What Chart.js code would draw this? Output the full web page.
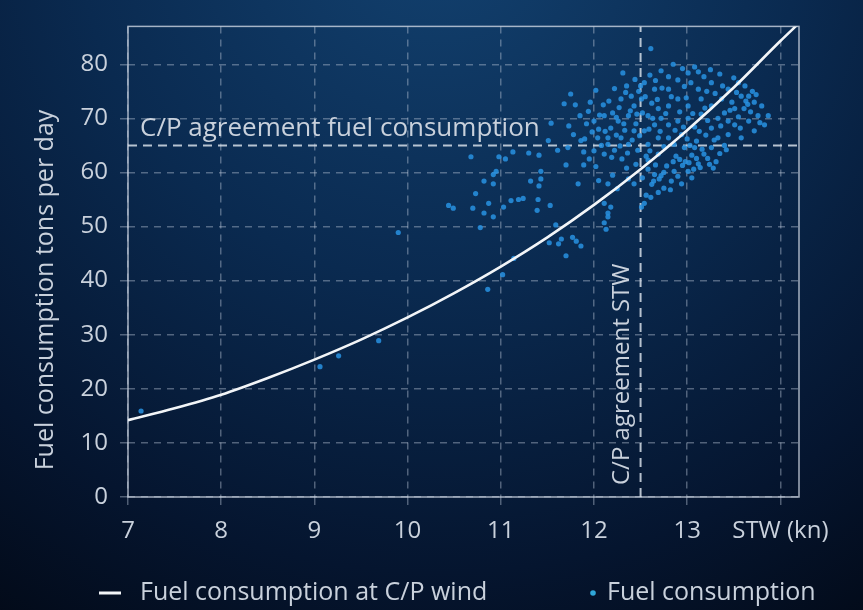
<!DOCTYPE html>
<html>
<head>
<meta charset="utf-8">
<script src="https://cdn.jsdelivr.net/npm/chart.js@4.4.1/dist/chart.umd.min.js"></script>
<style>
  html, body { margin: 0; padding: 0; background: #061a33; }
  canvas { display: block; }
</style>
</head>
<body>
<canvas id="fuelChart" width="863" height="610"></canvas>
<script>
// speed through water (kn) and the C/P wind curve
const curveStw  = [7, 7.5, 8, 8.5, 9, 9.5, 10, 10.5, 11, 11.5, 12, 12.5, 13, 13.5, 14, 14.2];
const curveFuel = [14.2, 16.4, 18.9, 22.0, 25.4, 29.1, 33.2, 37.7, 42.6, 48.0, 54.0, 60.6, 67.8, 75.7, 84.3, 87.6];

// measured noon reports [STW, fuel t/day]
const measured = [
  [7.14,15.9],[9.06,24.1],[9.26,26.1],[9.69,28.9],[9.90,48.9],
  [10.44,53.9],[10.49,53.4],[10.68,62.9],[10.70,53.4],[10.73,56.1],[10.78,49.8],[10.82,58.4],[10.82,52.5],
  [10.86,38.4],[10.87,54.3],[10.92,59.6],[10.92,57.9],[10.92,51.8],[10.95,60.2],[10.98,62.9],[11.02,41.1],
  [11.03,53.6],[11.05,62.5],[11.11,54.8],[11.13,63.8],[11.14,44.1],[11.19,55.0],[11.24,55.2],[11.30,63.6],
  [11.32,58.4],[11.39,53.0],[11.40,55.0],[11.41,57.5],[11.41,63.2],[11.43,58.8],[11.43,60.2],[11.51,65.9],
  [11.52,47.0],[11.53,53.9],[11.54,69.1],[11.59,50.3],[11.61,64.1],[11.62,46.8],[11.65,47.7],[11.68,72.7],
  [11.70,61.4],[11.70,44.6],[11.72,64.6],[11.73,68.6],[11.75,74.5],[11.77,48.0],[11.78,67.0],[11.80,72.5],
  [11.81,47.3],[11.83,57.9],[11.85,70.5],[11.86,65.9],[11.86,46.4],[11.89,61.4],[11.89,63.8],[11.92,69.0],
  [11.94,71.3],[11.95,62.5],[11.98,67.5],
  [12.00,69.5],[12.00,64.0],[12.02,61.1],[12.04,66.4],[12.05,68.0],[12.05,58.5],[12.10,72.5],[12.11,70.5],
  [12.11,63.4],[12.11,54.3],[12.11,50.7],[12.13,49.5],[12.15,65.2],[12.15,57.9],[12.15,51.8],[12.15,66.4],
  [12.15,52.5],[12.18,68.2],[12.18,53.6],[12.20,71.0],[12.20,59.5],[12.22,64.1],[12.22,75.5],[12.25,57.0],
  [12.26,69.5],[12.29,66.4],[12.29,73.6],[12.30,62.5],[12.31,78.4],[12.33,67.8],[12.35,60.8],[12.35,76.0],
  [12.37,70.5],[12.37,65.2],[12.37,58.8],[12.40,74.1],[12.43,72.3],[12.43,67.7],[12.43,57.9],[12.45,69.0],
  [12.45,61.5],[12.47,64.1],[12.48,75.0],[12.50,76.0],[12.51,73.6],[12.51,53.6],[12.52,59.0],[12.54,76.6],
  [12.54,67.7],[12.54,54.3],[12.58,70.5],[12.58,65.2],[12.58,62.3],[12.60,78.0],[12.60,64.0],[12.61,82.9],
  [12.61,55.4],[12.62,72.8],[12.62,57.8],[12.65,75.4],[12.65,68.8],[12.65,59.6],[12.69,71.8],[12.69,66.4],
  [12.69,63.4],[12.69,56.3],[12.70,58.8],[12.72,78.8],[12.72,70.0],[12.75,64.8],[12.75,60.0],[12.75,57.1],
  [11.90,66.2],[11.96,73.0],[12.02,75.2],[12.06,70.6],[12.08,65.0],[12.12,67.6],[12.16,73.2],[12.19,62.8],
  [12.24,66.9],[12.24,70.2],[12.27,72.0],[12.28,64.9],[12.32,69.0],[12.34,74.8],[12.36,63.6],[12.39,71.4],
  [12.41,66.0],[12.44,77.2],[12.46,70.8],[12.49,66.8],[12.52,71.0],[12.55,74.0],[12.56,63.0],[12.59,68.0],
  [12.63,70.0],[12.66,77.0],[12.68,73.5],[12.71,67.6],[12.73,75.6],[12.77,70.9],
  [12.56,55.8],[12.64,58.4],[12.72,59.4],[12.78,61.2],[12.82,56.8],[12.92,62.4],[13.02,61.8],[13.07,60.6],
  [12.66,61.4],[12.58,60.6],
  [12.80,77.7],[12.80,75.4],[12.80,72.3],[12.80,68.8],[12.80,66.4],[12.83,58.4],[12.85,80.0],[12.85,62.0],
  [12.86,65.2],[12.86,60.2],[12.88,63.0],[12.90,77.1],[12.90,73.6],[12.90,69.5],[12.90,59.3],[12.94,67.0],
  [12.94,57.9],[12.95,79.2],[12.95,61.3],[12.97,75.9],[12.97,64.6],[12.98,62.0],[13.00,66.2],[13.01,78.4],
  [13.01,72.3],[13.01,70.0],[13.01,60.2],[13.05,63.2],[13.05,59.0],[13.08,79.5],[13.08,68.4],[13.08,64.6],
  [13.10,65.8],[13.12,78.6],[13.12,75.4],[13.12,61.6],[13.14,60.9],[13.15,73.6],[13.15,70.8],[13.18,77.7],
  [13.18,63.4],[13.20,66.9],[13.22,69.6],[13.22,62.6],[13.25,79.0],[13.26,76.6],[13.26,72.3],[13.26,68.2],
  [13.26,64.6],[13.28,60.8],[13.33,70.0],[13.33,66.4],[13.35,78.2],[13.35,63.5],[13.37,73.6],[13.40,71.0],
  [13.40,65.0],[13.44,75.4],[13.44,69.5],[13.44,67.0],[13.48,73.0],[13.50,77.5],[13.51,71.8],[13.51,68.8],
  [13.55,76.6],[13.55,70.3],[13.58,74.1],[13.58,66.4],[13.61,71.8],[13.62,76.0],[13.65,72.6],[13.66,74.1],
  [13.66,69.5],[13.70,75.0],[13.72,73.0],[13.72,67.7],[13.76,70.5],[13.80,72.3],[13.83,68.8],[13.87,70.5],
  [12.83,74.0],[12.87,67.8],[12.92,71.2],[12.96,68.4],[12.99,73.8],[13.03,65.0],[13.04,76.6],[13.06,70.9],
  [13.10,62.6],[13.13,67.6],[13.16,64.3],[13.19,71.9],[13.21,75.0],[13.24,61.5],[13.29,66.0],[13.30,74.6],
  [13.31,62.0],[13.36,68.6],[13.38,76.0],[13.42,64.2],[13.46,71.5],[13.53,74.8],[13.57,68.2],[13.63,73.2],
  [13.68,71.2],[13.74,74.4],[13.78,69.2]
];

const cpFuel = 65;     // C/P agreement fuel consumption
const cpStw = 12.5;    // C/P agreement STW
const xRange = [7, 14.2];
const yRange = [0, 87];
const xTicks = [7, 8, 9, 10, 11, 12, 13, 14];
const yTicks = [0, 10, 20, 30, 40, 50, 60, 70, 80];
const xUnitLabel = 'STW (kn)';
const yTitle = 'Fuel consumption tons per day';
const hLabel = 'C/P agreement fuel consumption';
const vLabel = 'C/P agreement STW';

const FONT = "'Open Sans', sans-serif";
const TXT = '#c9d1dc';
const GRID = 'rgba(185,198,215,0.42)';

const backdrop = {
  id: 'backdrop',
  beforeDraw(chart) {
    const { ctx, width, height } = chart;
    const g = ctx.createRadialGradient(440, -80, 30, 440, -80, 860);
    g.addColorStop(0, '#12406e');
    g.addColorStop(0.4, '#0a2a50');
    g.addColorStop(0.75, '#05152f');
    g.addColorStop(1, '#020814');
    ctx.save();
    ctx.fillStyle = g;
    ctx.fillRect(0, 0, width, height);
    ctx.restore();
  }
};

const frame = {
  id: 'frame',
  beforeDatasetsDraw(chart) {
    const { ctx, chartArea: a } = chart;
    ctx.save();
    ctx.strokeStyle = 'rgba(205,214,226,0.8)';
    ctx.lineWidth = 1.5;
    ctx.strokeRect(a.left, a.top, a.right - a.left, a.bottom - a.top);
    ctx.restore();
  }
};

const texts = {
  id: 'texts',
  afterDatasetsDraw(chart) {
    const { ctx, scales: { x, y } } = chart;
    ctx.save();
    ctx.fillStyle = TXT;
    // horizontal C/P label
    ctx.font = '26px ' + FONT;
    ctx.textAlign = 'left';
    ctx.textBaseline = 'alphabetic';
    ctx.fillText(hLabel, x.getPixelForValue(xRange[0]) + 12, y.getPixelForValue(cpFuel) - 9);
    // vertical C/P label
    ctx.font = '24px ' + FONT;
    ctx.save();
    ctx.translate(x.getPixelForValue(cpStw) - 12, y.getPixelForValue(0) - 12);
    ctx.rotate(-Math.PI / 2);
    ctx.fillText(vLabel, 0, 0);
    ctx.restore();
    // y axis title
    ctx.font = '25px ' + FONT;
    ctx.save();
    ctx.translate(46, 290);
    ctx.rotate(-Math.PI / 2);
    ctx.textAlign = 'center';
    ctx.textBaseline = 'middle';
    ctx.fillText(yTitle, 0, 0);
    ctx.restore();
    // legend
    const ly = 593;
    ctx.font = '25px ' + FONT;
    ctx.strokeStyle = '#f2f5f8';
    ctx.lineWidth = 3;
    ctx.beginPath();
    ctx.moveTo(99, ly);
    ctx.lineTo(121, ly);
    ctx.stroke();
    ctx.textBaseline = 'middle';
    ctx.textAlign = 'left';
    ctx.fillText(chart.data.datasets[0].label, 140, ly);
    ctx.fillStyle = '#2fa6d8';
    ctx.beginPath();
    ctx.arc(593, ly, 2.8, 0, Math.PI * 2);
    ctx.fill();
    ctx.fillStyle = TXT;
    ctx.fillText(chart.data.datasets[1].label, 607, ly);
    ctx.restore();
  }
};

new Chart(document.getElementById('fuelChart'), {
  type: 'scatter',
  data: {
    datasets: [
      {
        type: 'line',
        label: 'Fuel consumption at C/P wind',
        data: curveStw.map((v, i) => ({ x: v, y: curveFuel[i] })),
        borderColor: '#f2f5f8',
        borderWidth: 2.6,
        pointRadius: 0,
        cubicInterpolationMode: 'monotone'
      },
      {
        label: 'Fuel consumption',
        data: measured.map(p => ({ x: p[0], y: p[1] })),
        backgroundColor: 'rgba(40,146,226,0.85)',
        borderWidth: 0,
        pointRadius: 2.6
      },
      {
        type: 'line',
        label: hLabel,
        data: [{ x: xRange[0], y: cpFuel }, { x: xRange[1], y: cpFuel }],
        borderColor: 'rgba(214,222,232,0.85)',
        borderWidth: 2,
        borderDash: [9, 6],
        pointRadius: 0
      },
      {
        type: 'line',
        label: vLabel,
        data: [{ x: cpStw, y: yRange[0] }, { x: cpStw, y: yRange[1] }],
        borderColor: 'rgba(214,222,232,0.85)',
        borderWidth: 2,
        borderDash: [9, 6],
        pointRadius: 0
      }
    ]
  },
  options: {
    responsive: false,
    animation: false,
    layout: { padding: { top: 9, right: 64, left: 0, bottom: 0 } },
    plugins: {
      legend: { display: false },
      tooltip: { enabled: false }
    },
    scales: {
      x: {
        type: 'linear',
        min: xRange[0],
        max: xRange[1],
        afterBuildTicks: s => { s.ticks = xTicks.map(v => ({ value: v })); },
        afterFit: s => { s.height = 113; },
        grid: { color: GRID, lineWidth: 1.5, tickLength: 8, tickColor: GRID },
        border: { display: false, dash: [7, 6] },
        ticks: {
          color: TXT,
          padding: 12,
          maxRotation: 0,
          autoSkip: false,
          font: { family: FONT, size: 24 },
          callback: v => (v === 14 ? xUnitLabel : v)
        }
      },
      y: {
        min: yRange[0],
        max: yRange[1],
        afterBuildTicks: s => { s.ticks = yTicks.map(v => ({ value: v })); },
        afterFit: s => { s.width = 128; },
        grid: { color: GRID, lineWidth: 1.5, tickLength: 8, tickColor: GRID },
        border: { display: false, dash: [7, 6] },
        ticks: {
          color: TXT,
          padding: 12,
          autoSkip: false,
          font: { family: FONT, size: 24 }
        }
      }
    }
  },
  plugins: [backdrop, frame, texts]
});
</script>
</body>
</html>
